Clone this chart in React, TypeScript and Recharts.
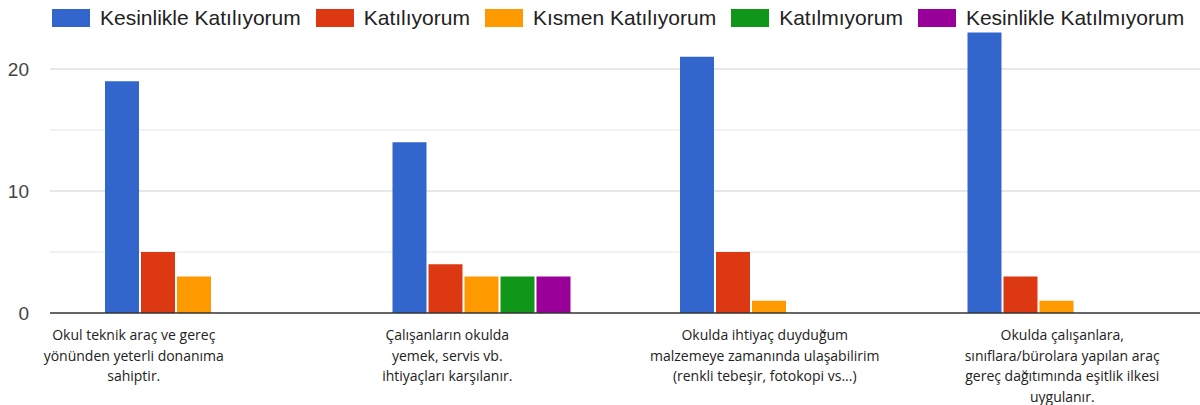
import React from "react";
import { BarChart, Bar, XAxis, YAxis, CartesianGrid } from "recharts";

const categories = [
  "Okul teknik araç ve gereç\nyönünden yeterli donanıma\nsahiptir.",
  "Çalışanların okulda\nyemek, servis vb.\nihtiyaçları karşılanır.",
  "Okulda ihtiyaç duyduğum\nmalzemeye zamanında ulaşabilirim\n(renkli tebeşir, fotokopi vs...)",
  "Okulda çalışanlara,\nsınıflara/bürolara yapılan araç\ngereç dağıtımında eşitlik ilkesi\nuygulanır.",
];

const seriesNames = [
  "Kesinlikle Katılıyorum",
  "Katılıyorum",
  "Kısmen Katılıyorum",
  "Katılmıyorum",
  "Kesinlikle Katılmıyorum",
];

const kesinlikleKatiliyorum = [19, 14, 21, 23];
const katiliyorum = [5, 4, 5, 3];
const kismenKatiliyorum = [3, 3, 1, 1];
const katilmiyorum = [0, 3, 0, 0];
const kesinlikleKatilmiyorum = [0, 3, 0, 0];

const yTicks = [0, 10, 20];

const colors = ["#3366cc", "#dc3912", "#ff9900", "#109618", "#990099"];
// horizontal nudge of each wrapped category label
const labelShift = [-60, -34, -4, 6];

const seriesValues = [
  kesinlikleKatiliyorum,
  katiliyorum,
  kismenKatiliyorum,
  katilmiyorum,
  kesinlikleKatilmiyorum,
];

const data = categories.map((name, i) => {
  const row: Record<string, string | number> = { name };
  seriesNames.forEach((s, j) => {
    row[s] = seriesValues[j][i];
  });
  return row;
});

const CategoryTick = (props: any) => {
  const { x, y, payload, index } = props;
  const lines = String(payload.value).split("\n");
  const shift = labelShift[index] || 0;
  return (
    <text
      x={x + shift}
      y={y}
      textAnchor="middle"
      fill="#222"
      fontSize={14}
      fontFamily="'Open Sans', sans-serif"
    >
      {lines.map((line, i) => (
        <tspan key={i} x={x + shift} dy={i === 0 ? 19 : 20.5}>
          {line}
        </tspan>
      ))}
    </text>
  );
};

const LegendRow = () => (
  <div
    style={{
      position: "absolute",
      left: 52,
      top: 9,
      display: "flex",
      alignItems: "center",
      fontFamily: "'Liberation Sans', Arial, sans-serif",
      fontSize: 21,
      lineHeight: "18px",
      color: "#222",
      whiteSpace: "nowrap",
    }}
  >
    {seriesNames.map((name, i) => (
      <div key={name} style={{ display: "flex", alignItems: "center", marginRight: 15 }}>
        <span
          style={{
            display: "inline-block",
            width: 38,
            height: 18,
            background: colors[i],
            marginRight: 10,
          }}
        />
        <span>{name}</span>
      </div>
    ))}
  </div>
);

export default function App() {
  return (
    <div
      style={{
        position: "absolute",
        left: 0,
        top: 0,
        width: 1200,
        height: 405,
        background: "#fff",
        overflow: "hidden",
      }}
    >
      <BarChart
        width={1200}
        height={405}
        data={data}
        margin={{ top: 8, right: 0, left: 0, bottom: 0 }}
        barSize={34}
        barGap={2}
      >
        <CartesianGrid
          vertical={false}
          horizontalValues={[5, 15]}
          stroke="#e4e4e4"
        />
        <CartesianGrid
          vertical={false}
          horizontalValues={[10, 20]}
          stroke="#cfcfcf"
        />
        <XAxis
          dataKey="name"
          height={92}
          interval={0}
          tickLine={false}
          axisLine={{ stroke: "#333", strokeWidth: 1.5 }}
          tick={<CategoryTick />}
        />
        <YAxis
          width={50}
          domain={[0, 25]}
          ticks={yTicks}
          tickLine={false}
          axisLine={false}
          tickSize={0}
          tickMargin={21}
          tick={{
            fill: "#444",
            fontSize: 19,
            fontFamily: "'Liberation Sans', Arial, sans-serif",
          }}
        />
        {seriesNames.map((name, i) => (
          <Bar
            key={name}
            dataKey={name}
            fill={colors[i]}
            isAnimationActive={false}
          />
        ))}
      </BarChart>
      <LegendRow />
    </div>
  );
}
